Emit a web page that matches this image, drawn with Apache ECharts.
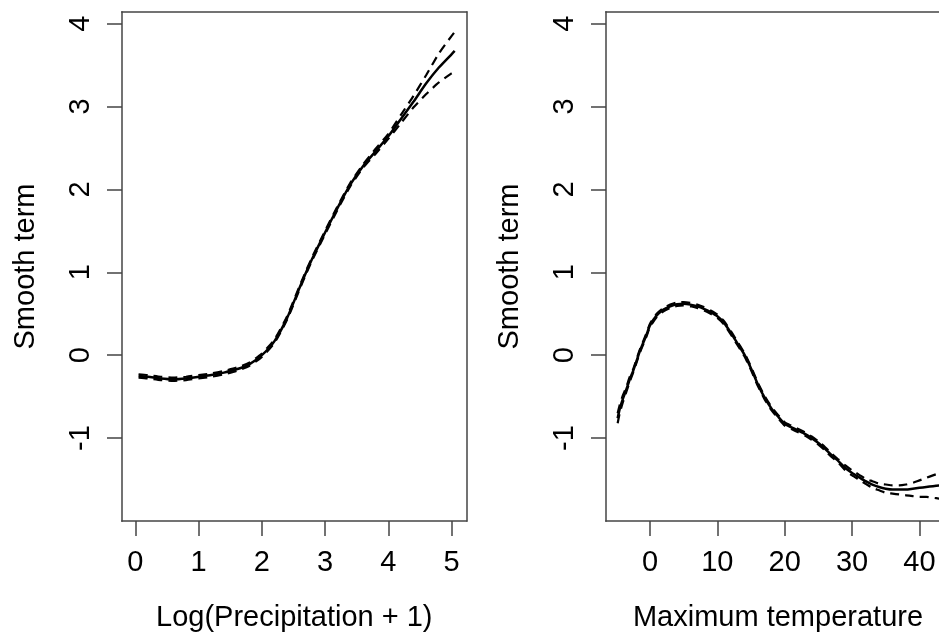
<!DOCTYPE html>
<html>
<head>
<meta charset="utf-8">
<script src="https://cdn.jsdelivr.net/npm/echarts@6/dist/echarts.min.js"></script>
<style>html,body{margin:0;padding:0;background:#fff;overflow:hidden}#chart{width:939px;height:637px}</style>
</head>
<body>
<div id="chart"></div>
<script>
// Left panel: smooth term of Log(Precipitation + 1)
var precipX     = [0.05, 0.2, 0.4, 0.6, 0.8, 1.0, 1.2, 1.4, 1.6, 1.8, 2.0, 2.2, 2.4, 2.6, 2.7, 2.8, 3.0, 3.2, 3.4, 3.6, 3.8, 4.0, 4.2, 4.4, 4.6, 4.8, 5.0, 5.05];
var precipFit   = [-0.25, -0.26, -0.28, -0.29, -0.28, -0.26, -0.24, -0.21, -0.17, -0.11, 0.00, 0.17, 0.45, 0.82, 1.00, 1.17, 1.48, 1.78, 2.06, 2.28, 2.46, 2.64, 2.85, 3.06, 3.28, 3.47, 3.63, 3.67];
var precipUpper = [-0.23, -0.24, -0.26, -0.27, -0.26, -0.24, -0.22, -0.19, -0.15, -0.09, 0.02, 0.19, 0.47, 0.84, 1.02, 1.19, 1.50, 1.80, 2.08, 2.30, 2.49, 2.67, 2.90, 3.13, 3.38, 3.64, 3.85, 3.90];
var precipLower = [-0.27, -0.28, -0.30, -0.31, -0.30, -0.28, -0.26, -0.23, -0.19, -0.13, -0.02, 0.15, 0.43, 0.80, 0.98, 1.15, 1.46, 1.76, 2.04, 2.26, 2.43, 2.61, 2.80, 2.99, 3.15, 3.29, 3.40, 3.42];
var precipTicks = [0, 1, 2, 3, 4, 5];

// Right panel: smooth term of Maximum temperature
var tempX     = [-4.8, -4.5, -4.0, -3.5, -3.0, -2.5, -2.0, -1.5, -1.0, -0.5, 0, 1, 2, 3, 4, 5, 6, 7, 8, 9, 10, 11, 12, 13, 14, 15, 16, 17, 18, 19, 20, 21, 22, 23, 24, 25, 26, 27, 28, 29, 30, 31, 32, 33, 34, 35, 36, 37, 38, 39, 40, 41, 42, 43];
var tempFit   = [-0.76, -0.65, -0.52, -0.41, -0.29, -0.19, -0.07, 0.05, 0.15, 0.25, 0.36, 0.48, 0.55, 0.59, 0.615, 0.62, 0.61, 0.59, 0.56, 0.52, 0.47, 0.39, 0.27, 0.14, 0.01, -0.16, -0.35, -0.51, -0.64, -0.74, -0.83, -0.87, -0.91, -0.95, -1.00, -1.06, -1.13, -1.21, -1.28, -1.36, -1.42, -1.47, -1.52, -1.56, -1.59, -1.61, -1.62, -1.62, -1.62, -1.61, -1.60, -1.59, -1.58, -1.57];
var tempUpper = [-0.70, -0.60, -0.48, -0.38, -0.26, -0.17, -0.05, 0.07, 0.17, 0.27, 0.38, 0.50, 0.57, 0.61, 0.635, 0.64, 0.63, 0.61, 0.58, 0.54, 0.49, 0.41, 0.29, 0.16, 0.03, -0.14, -0.33, -0.49, -0.62, -0.72, -0.81, -0.85, -0.89, -0.93, -0.98, -1.04, -1.11, -1.19, -1.26, -1.33, -1.39, -1.44, -1.49, -1.52, -1.55, -1.56, -1.57, -1.57, -1.56, -1.54, -1.51, -1.48, -1.45, -1.42];
var tempLower = [-0.82, -0.70, -0.56, -0.44, -0.32, -0.21, -0.09, 0.03, 0.13, 0.23, 0.34, 0.46, 0.53, 0.57, 0.595, 0.60, 0.59, 0.57, 0.54, 0.50, 0.45, 0.37, 0.25, 0.12, -0.01, -0.18, -0.37, -0.53, -0.66, -0.76, -0.85, -0.89, -0.93, -0.97, -1.02, -1.08, -1.15, -1.23, -1.30, -1.39, -1.45, -1.50, -1.55, -1.60, -1.63, -1.66, -1.67, -1.68, -1.69, -1.70, -1.71, -1.71, -1.72, -1.73];
var tempTicks = [0, 10, 20, 30, 40];

var yTicks = [-1, 0, 1, 2, 3, 4];

function pairs(xs, ys) { return xs.map(function (x, i) { return [x, ys[i]]; }); }

var FONT = '"Liberation Sans", Arial, sans-serif';
var AX = '#444';
var FS = 29;
var axLine = { show: true, onZero: false, lineStyle: { color: AX, width: 1.5, cap: 'square' } };

function xAxisCfg(idx, min, max, ticks, name, pad) {
  return {
    type: 'value', gridIndex: idx, min: min, max: max, position: 'bottom',
    axisLine: axLine,
    splitLine: { show: false },
    axisTick: { show: true, length: 15, customValues: ticks, lineStyle: { color: AX, width: 1.5 } },
    axisLabel: { customValues: ticks, fontSize: FS, color: '#000', fontFamily: FONT, margin: 27 },
    name: name, nameLocation: 'middle', nameGap: 82,
    nameTextStyle: { fontSize: FS, color: '#000', fontFamily: FONT, padding: pad }
  };
}
function frameX(idx, min, max) {
  return {
    type: 'value', gridIndex: idx, min: min, max: max, position: 'top',
    axisLine: axLine, axisTick: { show: false }, axisLabel: { show: false }, splitLine: { show: false }
  };
}
function yAxisCfg(idx) {
  return {
    type: 'value', gridIndex: idx, min: -2.0, max: 4.14, position: 'left',
    axisLine: axLine,
    splitLine: { show: false },
    axisTick: { show: true, length: 15, customValues: yTicks, lineStyle: { color: AX, width: 1.5 } },
    axisLabel: { customValues: yTicks, fontSize: FS, color: '#000', fontFamily: FONT, margin: 27, rotate: 90 },
    name: 'Smooth term', nameLocation: 'middle', nameGap: 82,
    nameTextStyle: { fontSize: FS, color: '#000', fontFamily: FONT }
  };
}
function frameY(idx) {
  return {
    type: 'value', gridIndex: idx, min: -2.0, max: 4.14, position: 'right',
    axisLine: axLine, axisTick: { show: false }, axisLabel: { show: false }, splitLine: { show: false }
  };
}
function lineSeries(idx, xs, ys, dashed) {
  return {
    type: 'line', xAxisIndex: idx, yAxisIndex: idx,
    data: pairs(xs, ys), showSymbol: false, symbol: 'none', smooth: 0.2,
    lineStyle: { color: '#000', width: dashed ? 2.2 : 2.5, type: dashed ? [9, 6] : 'solid' },
    silent: true
  };
}

var chart = echarts.init(document.getElementById('chart'), null, { renderer: 'canvas' });
chart.setOption({
  animation: false,
  backgroundColor: '#fff',
  grid: [
    { left: 122, top: 12, width: 344.5, height: 512, show: false },
    { left: 606, top: 12, right: 0, height: 512, show: false }
  ],
  xAxis: [
    xAxisCfg(0, -0.212, 5.237, precipTicks, 'Log(Precipitation + 1)', 0),
    xAxisCfg(1, -6.53, 42.9, tempTicks, 'Maximum temperature', [0, 0, 0, 11]),
    frameX(0, -0.212, 5.237),
    frameX(1, -6.53, 42.9)
  ],
  yAxis: [yAxisCfg(0), yAxisCfg(1), frameY(0)],
  series: [
    lineSeries(0, precipX, precipUpper, true),
    lineSeries(0, precipX, precipLower, true),
    lineSeries(0, precipX, precipFit, false),
    lineSeries(1, tempX, tempUpper, true),
    lineSeries(1, tempX, tempLower, true),
    lineSeries(1, tempX, tempFit, false)
  ]
});
</script>
</body>
</html>
